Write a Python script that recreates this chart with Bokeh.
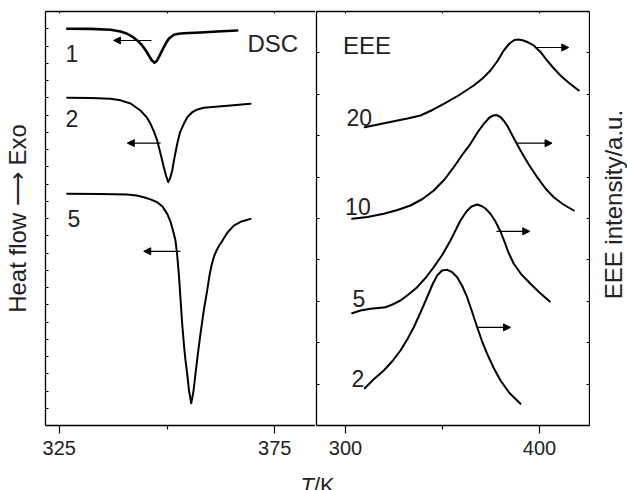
import math
from bokeh.plotting import figure
from bokeh.models import Range1d, LinearAxis, FixedTicker, Arrow, NormalHead, Label
from bokeh.layouts import row, column
from bokeh.core.properties import value
from bokeh.embed import file_html
from bokeh.resources import INLINE

FONT = "Liberation Sans"
INK = "#222222"

# ---------------- DSC data (left panel), T/K vs heat flow (a.u.) ----------------
dsc1_T = [326.86, 332.26, 336.90, 339.22, 340.77, 342.30, 343.39, 344.25, 345.01, 345.78, 346.41, 347.10,
          347.63, 348.10, 348.68, 349.26, 349.84, 350.42, 351.58, 352.67, 353.90, 357.77, 361.64, 366.28]
dsc1_y = [23.00, 22.99, 22.94, 22.84, 22.71, 22.48, 22.26, 22.03, 21.77, 21.45, 21.19, 21.03,
          21.13, 21.35, 21.65, 21.93, 22.20, 22.42, 22.65, 22.71, 22.74, 22.78, 22.84, 22.90]

dsc2_T = [326.86, 332.26, 336.90, 339.22, 341.55, 343.85, 345.25, 346.17, 346.98, 347.73, 348.49, 349.26,
          349.77, 350.28, 350.74, 351.21, 351.74, 352.37, 353.01, 353.90, 354.75, 355.84, 357.07, 358.53,
          361.24, 364.72, 369.36]
dsc2_y = [19.00, 18.99, 18.94, 18.85, 18.67, 18.26, 17.88, 17.49, 17.04, 16.52, 15.77, 14.97,
          14.49, 14.10, 14.35, 14.78, 15.54, 16.33, 16.99, 17.49, 17.88, 18.16, 18.32, 18.42,
          18.48, 18.55, 18.65]

dsc5_T = [326.86, 334.58, 340.77, 342.93, 344.62, 346.17, 347.73, 348.96, 350.05, 350.88, 351.58, 351.97,
          352.37, 352.74, 353.13, 353.52, 353.94, 354.29, 354.68, 355.10, 355.61, 356.10, 356.61, 357.19,
          357.77, 358.53, 359.32, 359.86, 360.32, 360.90, 361.48, 362.18, 362.87, 364.03, 365.49, 367.28,
          369.36]
dsc5_y = [13.43, 13.42, 13.39, 13.33, 13.23, 13.11, 12.94, 12.70, 12.27, 11.77, 11.11, 10.72,
          9.86, 8.79, 7.36, 5.90, 4.64, 3.77, 3.00, 2.03, 1.29, 1.91, 3.00, 4.23,
          5.32, 6.67, 7.83, 8.70, 9.28, 9.80, 10.14, 10.46, 10.72, 11.19, 11.59, 11.83,
          11.98]

dsc_labels = ["1", "2", "5"]
dsc_label_T = [326.46, 326.46, 326.92]
dsc_label_y = [21.57, 17.8, 12.0]

dsc_arrow_T0 = [346.4, 348.5, 353.1]
dsc_arrow_T1 = [337.6, 340.8, 344.6]
dsc_arrow_y = [22.32, 16.37, 10.10]

# ---------------- EEE data (right panel), T/K vs EEE intensity (a.u.) ----------------
eee20_T = [309.95, 318.04, 324.90, 331.96, 338.66, 344.85, 350.67, 358.25, 366.13, 370.62, 374.74, 378.35,
           381.60, 384.54, 387.11, 389.33, 391.75, 394.33, 397.06, 400.52, 403.97, 407.22, 410.82, 414.95,
           420.26]
eee20_y = [7.205, 7.283, 7.350, 7.415, 7.488, 7.621, 7.771, 7.971, 8.213, 8.382, 8.575, 8.804,
           9.058, 9.227, 9.312, 9.324, 9.300, 9.251, 9.179, 9.022, 8.816, 8.635, 8.454, 8.285,
           8.092]

eee10_T = [303.45, 311.34, 319.74, 326.80, 333.51, 339.69, 345.52, 351.03, 355.82, 360.31, 364.43, 368.04,
           371.29, 374.23, 376.29, 377.84, 379.90, 381.70, 383.35, 386.60, 390.21, 394.33, 398.81, 403.09,
           407.37, 412.37, 417.68]
eee10_y = [4.993, 5.036, 5.114, 5.205, 5.314, 5.471, 5.676, 5.942, 6.239, 6.546, 6.804, 7.077,
           7.287, 7.440, 7.488, 7.500, 7.452, 7.355, 7.246, 6.957, 6.643, 6.316, 5.998, 5.725,
           5.514, 5.338, 5.193]

eee5_T = [303.45, 307.73, 312.89, 317.01, 320.62, 324.23, 328.35, 332.47, 336.96, 341.24, 345.52, 350.00,
          354.12, 356.70, 359.28, 362.37, 364.95, 367.89, 370.10, 372.16, 374.74, 377.32, 379.90, 381.96,
          384.02, 386.75, 390.72, 395.36, 400.00, 405.31]
eee5_y = [2.713, 2.778, 2.819, 2.838, 2.857, 2.923, 3.019, 3.164, 3.341, 3.563, 3.824, 4.130,
          4.469, 4.710, 4.952, 5.169, 5.290, 5.338, 5.302, 5.242, 5.114, 4.928, 4.686, 4.444,
          4.179, 3.906, 3.647, 3.423, 3.213, 2.995]

eee2_T = [309.95, 314.43, 319.74, 324.23, 328.35, 331.96, 335.21, 338.66, 342.11, 344.85, 347.27, 349.74,
          352.42, 354.90, 357.58, 360.05, 362.73, 365.21, 367.89, 370.36, 373.04, 376.29, 379.90, 384.54,
          390.21]
eee2_y = [0.901, 1.111, 1.329, 1.558, 1.812, 2.089, 2.374, 2.729, 3.099, 3.406, 3.623, 3.744,
          3.761, 3.708, 3.582, 3.382, 3.099, 2.754, 2.374, 2.041, 1.732, 1.401, 1.087, 0.785,
          0.524]

eee_labels = ["20", "10", "5", "2"]
eee_label_T = [300.5, 299.8, 303.6, 303.1]
eee_label_y = [7.45, 5.29, 3.06, 1.13]

eee_arrow_T0 = [397.9, 388.5, 377.8, 367.9]
eee_arrow_T1 = [415.1, 406.5, 395.0, 385.05]
eee_arrow_y = [9.13, 6.82, 4.69, 2.37]

dsc_xticks = [325, 375]
dsc_xminor = [350]
eee_xticks = [300, 400]
eee_xminor = [350]

AX_W = 1.3
ROW_H = 463
BOT_H = 27


def blank_axis(ticks, tick_in, **kw):
    return LinearAxis(ticker=FixedTicker(ticks=ticks, minor_ticks=[]),
                      major_tick_in=tick_in, major_tick_out=0,
                      minor_tick_in=0, minor_tick_out=0,
                      major_label_text_font_size="0px", major_label_text_color=None,
                      major_label_standoff=0,
                      axis_line_width=AX_W, major_tick_line_width=1, **kw)


def bottom_axis(ticks, minor):
    return LinearAxis(ticker=FixedTicker(ticks=ticks, minor_ticks=minor),
                      major_tick_in=0, major_tick_out=8,
                      minor_tick_in=0, minor_tick_out=4,
                      major_tick_line_width=1.2, minor_tick_line_width=1.2,
                      major_label_text_font=FONT, major_label_text_font_size="20px",
                      major_label_text_color=INK,
                      major_label_standoff=7, axis_line_width=AX_W)


def base(width, xr, yr, mbl, mbr):
    p = figure(width=width, height=ROW_H, x_range=Range1d(*xr), y_range=Range1d(*yr),
               output_backend="svg", toolbar_location=None,
               x_axis_location=None, y_axis_location=None,
               min_border_left=mbl, min_border_right=mbr,
               min_border_top=11, min_border_bottom=38)
    p.grid.visible = False
    p.outline_line_color = None
    p.background_fill_color = "white"
    p.border_fill_color = "white"
    return p


def plain(width, height):
    p = figure(width=width, height=height, x_range=Range1d(0, width), y_range=Range1d(0, height),
               output_backend="svg", toolbar_location=None,
               x_axis_location=None, y_axis_location=None, min_border=0)
    p.grid.visible = False
    p.outline_line_color = None
    return p


# ---------------- left panel ----------------
pL = base(315, (321.82, 384.44), (0, 24), 45, 0)
ly = blank_axis(list(range(1, 24)), 3, axis_label="Heat flow \u27f6 Exo",
                axis_label_standoff=15, axis_label_text_font=FONT,
                axis_label_text_font_size="24px", axis_label_text_font_style="normal",
                axis_label_text_color=INK)
pL.add_layout(ly, "left")
pL.add_layout(bottom_axis(dsc_xticks, dsc_xminor), "below")
pL.add_layout(blank_axis([325, 350, 375], 2), "above")

for T, y, w in [(dsc1_T, dsc1_y, 2.6), (dsc2_T, dsc2_y, 2.0), (dsc5_T, dsc5_y, 2.0)]:
    pL.line(T, y, line_color="black", line_width=w, line_join="round", line_cap="round")

pL.text(x=dsc_label_T, y=dsc_label_y, text=dsc_labels, text_font=value(FONT),
        text_font_size="23px", text_baseline="alphabetic", text_align="left", text_color=INK)
pL.text(x=[368.67], y=[22.13], text=["DSC"], text_font=value(FONT),
        text_font_size="24px", text_baseline="alphabetic", text_align="left", text_color=INK)

for t0, t1, yy in zip(dsc_arrow_T0, dsc_arrow_T1, dsc_arrow_y):
    pL.add_layout(Arrow(end=NormalHead(size=7, fill_color="black", line_color="black", line_width=1),
                        x_start=t0, y_start=yy, x_end=t1, y_end=yy, line_width=1.2, line_color="black"))

# ---------------- right panel ----------------
pR = base(275, (285.05, 425.8), (0, 10), 1, 1)
pR.add_layout(blank_axis(list(range(1, 10)), 3), "left")
pR.add_layout(blank_axis(list(range(1, 10)), 3), "right")
pR.add_layout(bottom_axis(eee_xticks, eee_xminor), "below")
pR.add_layout(blank_axis([300, 350, 400], 2), "above")

for T, y in [(eee20_T, eee20_y), (eee10_T, eee10_y), (eee5_T, eee5_y), (eee2_T, eee2_y)]:
    pR.line(T, y, line_color="black", line_width=2.0, line_join="round", line_cap="round")

pR.text(x=eee_label_T, y=eee_label_y, text=eee_labels, text_font=value(FONT),
        text_font_size="23px", text_baseline="alphabetic", text_align="left", text_color=INK)
pR.text(x=[298.7], y=[9.18], text=["EEE"], text_font=value(FONT),
        text_font_size="24px", text_baseline="alphabetic", text_align="left", text_color=INK)

for t0, t1, yy in zip(eee_arrow_T0, eee_arrow_T1, eee_arrow_y):
    pR.add_layout(Arrow(end=NormalHead(size=7, fill_color="black", line_color="black", line_width=1),
                        x_start=t0, y_start=yy, x_end=t1, y_end=yy, line_width=1.2, line_color="black"))

# ---------------- right-hand title (reads bottom to top) ----------------
pE = plain(37, ROW_H)
pE.add_layout(Label(x=23, y=ROW_H - 216, text="EEE intensity/a.u.", angle=math.pi / 2,
                    text_font=FONT, text_font_size="24px", text_align="center",
                    text_baseline="middle", text_color=INK))

# ---------------- shared x-axis title ----------------
pB = plain(627, BOT_H)
TK_X = 313.5
TK_Y = 5.5
pB.add_layout(Label(x=TK_X, y=TK_Y, text="T", text_font=FONT, text_font_style="italic",
                    text_font_size="22px", text_align="right", text_baseline="alphabetic",
                    text_color=INK))
pB.add_layout(Label(x=TK_X, y=TK_Y, text="/K", text_font=FONT,
                    text_font_size="22px", text_align="left", text_baseline="alphabetic",
                    text_color=INK))

layout = column(row(pL, pR, pE), pB)
open("out.html", "w").write(file_html(layout, INLINE))
